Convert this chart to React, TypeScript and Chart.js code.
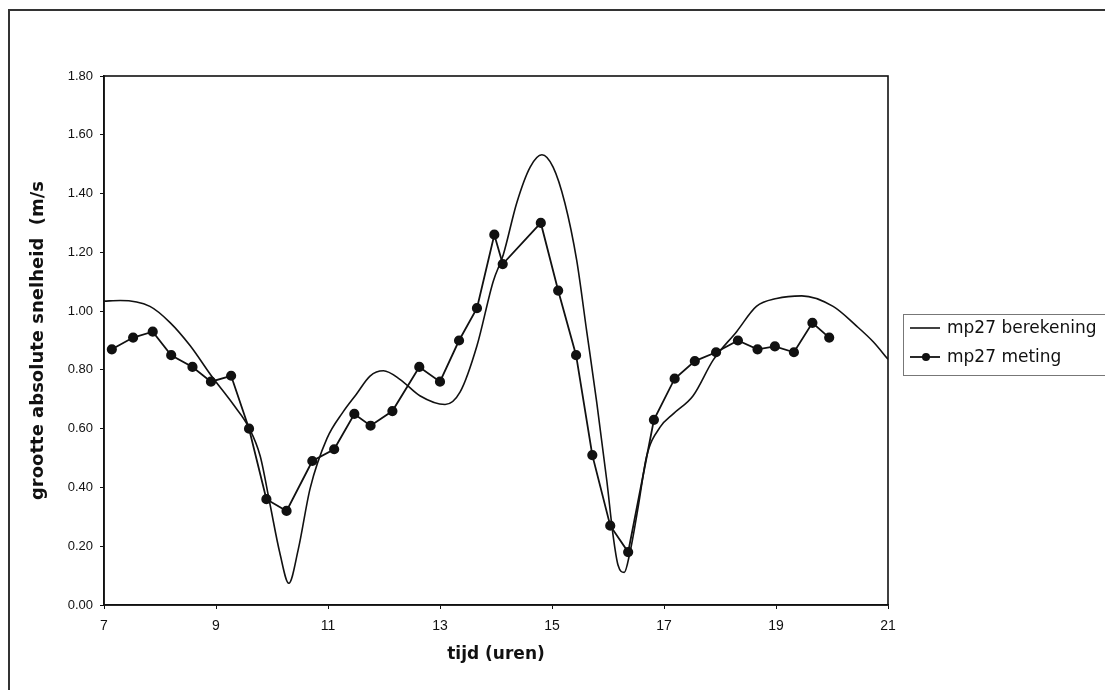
import React, { useEffect, useRef } from 'react';
import { Chart, registerables } from 'chart.js';

Chart.register(...registerables);

const seriesNames = ['mp27 berekening', 'mp27 meting'];
const xTitle = 'tijd (uren)';
const yTitle = 'grootte absolute snelheid  (m/s';

const xTicks = [7, 9, 11, 13, 15, 17, 19, 21];
const yTicks = [0, 0.2, 0.4, 0.6, 0.8, 1.0, 1.2, 1.4, 1.6, 1.8];

const metingTijd = [7.14, 7.52, 7.87, 8.2, 8.58, 8.91, 9.27, 9.59, 9.9, 10.26, 10.72, 11.11, 11.47, 11.76, 12.15, 12.63, 13.0, 13.34, 13.66, 13.97, 14.12, 14.8, 15.11, 15.43, 15.72, 16.04, 16.36, 16.82, 17.19, 17.55, 17.93, 18.32, 18.67, 18.98, 19.32, 19.65, 19.95];
const metingWaarde = [0.87, 0.91, 0.93, 0.85, 0.81, 0.76, 0.78, 0.6, 0.36, 0.32, 0.49, 0.53, 0.65, 0.61, 0.66, 0.81, 0.76, 0.9, 1.01, 1.26, 1.16, 1.3, 1.07, 0.85, 0.51, 0.27, 0.18, 0.63, 0.77, 0.83, 0.86, 0.9, 0.87, 0.88, 0.86, 0.96, 0.91];

const berekeningTijd = [7.0, 7.29, 7.82, 8.18, 8.54, 8.92, 9.31, 9.59, 9.79, 9.96, 10.14, 10.3, 10.47, 10.68, 10.98, 11.27, 11.51, 11.75, 11.99, 12.29, 12.64, 13.09, 13.36, 13.66, 13.95, 14.13, 14.37, 14.61, 14.82, 15.02, 15.23, 15.44, 15.62, 15.8, 15.98, 16.09, 16.18, 16.29, 16.39, 16.54, 16.69, 16.93, 17.17, 17.52, 17.88, 18.3, 18.65, 19.01, 19.46, 20.02, 20.44, 20.74, 21.0];
const berekeningWaarde = [1.034, 1.036, 1.016, 0.961, 0.882, 0.779, 0.682, 0.603, 0.506, 0.347, 0.177, 0.074, 0.19, 0.396, 0.566, 0.657, 0.718, 0.779, 0.797, 0.767, 0.712, 0.682, 0.725, 0.882, 1.101, 1.192, 1.368, 1.49, 1.532, 1.49, 1.368, 1.174, 0.931, 0.688, 0.421, 0.238, 0.135, 0.111, 0.177, 0.335, 0.506, 0.605, 0.651, 0.712, 0.834, 0.931, 1.016, 1.043, 1.052, 1.016, 0.949, 0.895, 0.836];

const INK = '#111';

const framePlugin = {
  id: 'plotFrame',
  afterDraw(chart: any) {
    const { ctx, chartArea } = chart;
    ctx.save();
    ctx.strokeStyle = INK;
    ctx.lineWidth = 1.6;
    ctx.strokeRect(chartArea.left, chartArea.top, chartArea.right - chartArea.left, chartArea.bottom - chartArea.top);
    ctx.restore();
  },
};

const legendPlugin = {
  id: 'boxLegend',
  afterDraw(chart: any) {
    const { ctx, chartArea } = chart;
    const left = chartArea.right + 15;
    const top = chartArea.top + 238;
    const width = chart.width - 2 - left;
    const height = 61;
    ctx.save();
    ctx.strokeStyle = '#777';
    ctx.lineWidth = 1;
    ctx.strokeRect(left + 0.5, top + 0.5, width, height);
    const rows = [top + 14, top + 43];
    ctx.font = '17px "DejaVu Sans"';
    ctx.fillStyle = INK;
    ctx.textBaseline = 'middle';
    ctx.textAlign = 'left';
    rows.forEach((y, i) => {
      ctx.strokeStyle = INK;
      ctx.lineWidth = i === 0 ? 1.6 : 1.8;
      ctx.beginPath();
      ctx.moveTo(left + 7, y);
      ctx.lineTo(left + 37, y);
      ctx.stroke();
      if (i === 1) {
        ctx.beginPath();
        ctx.arc(left + 23, y, 4, 0, Math.PI * 2);
        ctx.fill();
      }
      ctx.fillText(seriesNames[i], left + 44, y + 1);
    });
    ctx.restore();
  },
};

export default function App() {
  const ref = useRef<HTMLCanvasElement>(null);

  useEffect(() => {
    if (!ref.current) return;
    const chart = new Chart(ref.current, {
      type: 'line',
      data: {
        datasets: [
          {
            label: seriesNames[0],
            data: berekeningTijd.map((t, i) => ({ x: t, y: berekeningWaarde[i] })),
            borderColor: INK,
            borderWidth: 1.6,
            pointRadius: 0,
            cubicInterpolationMode: 'monotone',
            fill: false,
          },
          {
            label: seriesNames[1],
            data: metingTijd.map((t, i) => ({ x: t, y: metingWaarde[i] })),
            borderColor: INK,
            backgroundColor: INK,
            borderWidth: 1.8,
            pointRadius: 4.2,
            pointBackgroundColor: INK,
            pointBorderColor: INK,
            tension: 0,
            fill: false,
          },
        ],
      },
      options: {
        animation: false,
        responsive: false,
        maintainAspectRatio: false,
        layout: { padding: { left: 16, right: 225, top: 68, bottom: 21 } },
        plugins: {
          legend: { display: false },
          tooltip: { enabled: false },
        },
        scales: {
          x: {
            type: 'linear',
            min: 7,
            max: 21,
            afterBuildTicks: (scale: any) => {
              scale.ticks = xTicks.map((v) => ({ value: v }));
            },
            afterFit: (scale: any) => {
              scale.height = 64;
            },
            grid: { display: true, drawOnChartArea: false, drawTicks: true, tickLength: 4, color: INK },
            border: { display: true, color: INK, width: 1.6 },
            ticks: {
              color: INK,
              padding: 9,
              maxRotation: 0,
              font: { family: '"Liberation Sans", Arial, sans-serif', size: 14 },
              callback: (v: any) => String(v),
            },
            title: {
              display: true,
              text: xTitle,
              color: INK,
              font: { family: '"DejaVu Sans", sans-serif', size: 17, weight: 'bold' },
              padding: { top: 4, bottom: 4 },
            },
          },
          y: {
            type: 'linear',
            min: 0,
            max: 1.8,
            afterBuildTicks: (scale: any) => {
              scale.ticks = yTicks.map((v) => ({ value: v }));
            },
            afterFit: (scale: any) => {
              scale.width = 80;
            },
            grid: { display: true, drawOnChartArea: false, drawTicks: true, tickLength: 4, color: INK },
            border: { display: true, color: INK, width: 1.6 },
            ticks: {
              color: INK,
              padding: 7,
              font: { family: '"Liberation Sans", Arial, sans-serif', size: 13 },
              callback: (v: any) => Number(v).toFixed(2),
            },
            title: {
              display: true,
              text: yTitle,
              color: INK,
              font: { family: '"DejaVu Sans", sans-serif', size: 18, weight: 'bold' },
              padding: { top: 4, bottom: 4 },
            },
          },
        },
      },
      plugins: [framePlugin, legendPlugin],
    } as any);
    return () => chart.destroy();
  }, []);

  return (
    <div style={{ position: 'relative', width: 1105, height: 682, overflow: 'hidden', background: '#fff' }}>
      <div
        style={{
          position: 'absolute',
          left: 0,
          top: 1,
          width: 1200,
          height: 800,
          border: '2.5px solid #333',
          boxSizing: 'border-box',
        }}
      />
      <canvas ref={ref} width={1105} height={682} style={{ position: 'absolute', left: 0, top: 0 }} />
    </div>
  );
}
